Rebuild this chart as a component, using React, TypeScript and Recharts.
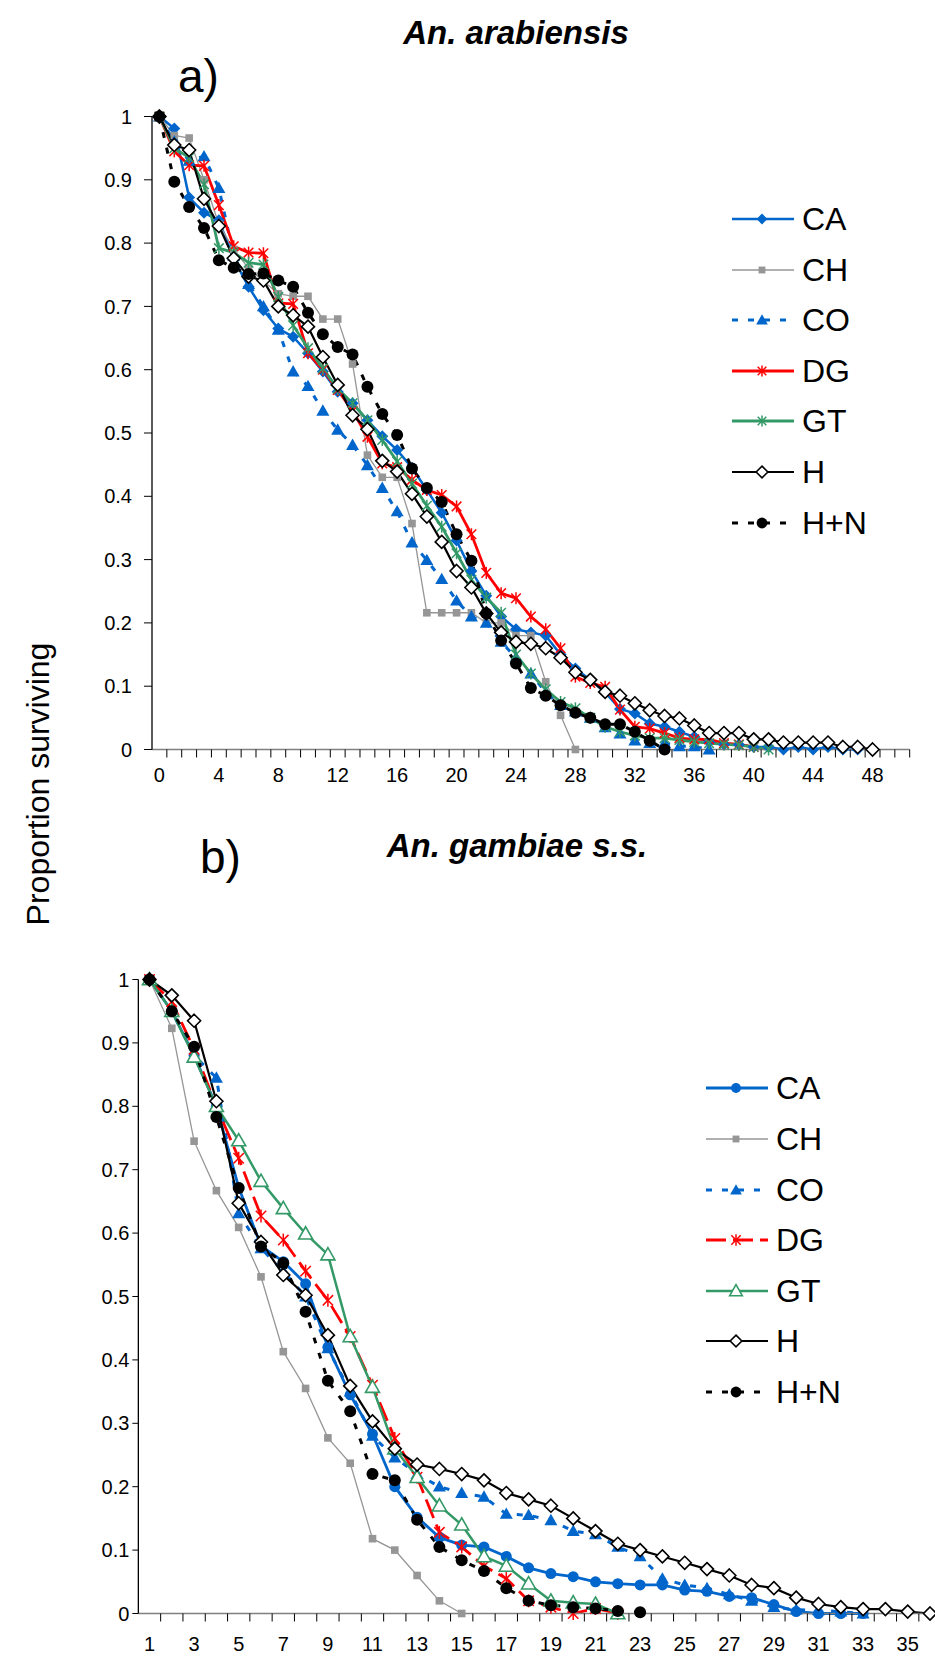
import React from 'react';
import { LineChart, Line, XAxis, YAxis } from 'recharts';

// ---------- a) An. arabiensis, days 0-48 ----------
const DAYS_A = [0, 1, 2, 3, 4, 5, 6, 7, 8, 9, 10, 11, 12, 13, 14, 15, 16, 17, 18, 19, 20, 21, 22, 23, 24,
  25, 26, 27, 28, 29, 30, 31, 32, 33, 34, 35, 36, 37, 38, 39, 40, 41, 42, 43, 44, 45, 46, 47, 48];
const CA_A = [1, 0.981, 0.872, 0.848, 0.836, 0.775, 0.731, 0.694, 0.665, 0.652, 0.626, 0.597, 0.565, 0.547,
  0.52, 0.495, 0.473, 0.445, 0.41, 0.374, 0.33, 0.282, 0.243, 0.21, 0.19, 0.185, 0.18, 0.15, 0.128, 0.11,
  0.09, 0.064, 0.057, 0.041, 0.036, 0.028, 0.02, 0.012, 0.008, 0.008, 0.004, 0.004, 0, 0.004, 0, 0.004, 0, 0];
const CH_A = [1, 0.97, 0.966, 0.9, 0.83, 0.79, 0.76, 0.74, 0.72, 0.716, 0.716, 0.68, 0.68, 0.609, 0.465,
  0.43, 0.43, 0.357, 0.216, 0.216, 0.216, 0.216, 0.2, 0.2, 0.18, 0.18, 0.107, 0.054, 0];
const CO_A = [1, 0.96, 0.93, 0.937, 0.887, 0.78, 0.735, 0.7, 0.663, 0.597, 0.574, 0.535, 0.505, 0.481,
  0.449, 0.413, 0.376, 0.327, 0.299, 0.269, 0.235, 0.21, 0.2, 0.17, 0.145, 0.12, 0.09, 0.07, 0.06, 0.05,
  0.035, 0.025, 0.014, 0.01, 0.01, 0.005, 0.005, 0];
const DG_A = [1, 0.945, 0.923, 0.922, 0.86, 0.795, 0.785, 0.784, 0.705, 0.704, 0.626, 0.6, 0.568, 0.535,
  0.494, 0.452, 0.446, 0.426, 0.41, 0.402, 0.384, 0.34, 0.279, 0.247, 0.239, 0.21, 0.19, 0.16, 0.115, 0.105,
  0.099, 0.063, 0.036, 0.033, 0.026, 0.018, 0.016, 0.016, 0.01, 0.008, 0.004];
const GT_A = [1, 0.95, 0.935, 0.893, 0.792, 0.785, 0.769, 0.766, 0.715, 0.67, 0.634, 0.602, 0.57, 0.547,
  0.52, 0.489, 0.455, 0.42, 0.385, 0.352, 0.31, 0.268, 0.24, 0.216, 0.15, 0.12, 0.095, 0.075, 0.065, 0.05,
  0.036, 0.028, 0.022, 0.018, 0.018, 0.015, 0.012, 0.01, 0.008, 0.007, 0.004, 0];
const H_A = [1, 0.955, 0.947, 0.87, 0.827, 0.776, 0.747, 0.741, 0.7, 0.686, 0.668, 0.62, 0.576, 0.528,
  0.506, 0.456, 0.439, 0.404, 0.368, 0.328, 0.282, 0.256, 0.215, 0.185, 0.17, 0.167, 0.16, 0.145, 0.122,
  0.11, 0.091, 0.085, 0.073, 0.062, 0.053, 0.049, 0.038, 0.026, 0.026, 0.026, 0.016, 0.016, 0.011, 0.011,
  0.011, 0.011, 0.004, 0.004, 0];
const HN_A = [1, 0.897, 0.857, 0.824, 0.773, 0.761, 0.751, 0.752, 0.741, 0.731, 0.69, 0.656, 0.636, 0.624,
  0.573, 0.53, 0.497, 0.444, 0.413, 0.391, 0.34, 0.298, 0.215, 0.172, 0.136, 0.097, 0.085, 0.07, 0.058,
  0.05, 0.04, 0.04, 0.028, 0.014, 0];

// ---------- b) An. gambiae s.s., days 1-36 ----------
const DAYS_B = [1, 2, 3, 4, 5, 6, 7, 8, 9, 10, 11, 12, 13, 14, 15, 16, 17, 18, 19, 20, 21, 22, 23, 24, 25,
  26, 27, 28, 29, 30, 31, 32, 33, 34, 35, 36];
const CA_B = [1, 0.95, 0.88, 0.8, 0.672, 0.58, 0.555, 0.52, 0.42, 0.345, 0.283, 0.2, 0.152, 0.12, 0.108,
  0.105, 0.09, 0.072, 0.063, 0.058, 0.05, 0.047, 0.045, 0.045, 0.037, 0.035, 0.027, 0.025, 0.014, 0.003,
  0, 0, 0];
const CH_B = [1, 0.923, 0.745, 0.667, 0.609, 0.531, 0.413, 0.355, 0.277, 0.237, 0.118, 0.1, 0.06, 0.02, 0];
const CO_B = [1, 0.95, 0.88, 0.845, 0.631, 0.576, 0.54, 0.5, 0.418, 0.35, 0.28, 0.246, 0.22, 0.2, 0.19,
  0.184, 0.157, 0.155, 0.147, 0.13, 0.125, 0.105, 0.09, 0.055, 0.045, 0.04, 0.03, 0.02, 0.01, 0.006, 0.005,
  0.003, 0];
const DG_B = [1, 0.965, 0.89, 0.8, 0.718, 0.627, 0.589, 0.54, 0.494, 0.437, 0.36, 0.276, 0.215, 0.128,
  0.105, 0.075, 0.055, 0.02, 0.01, 0, 0.008, 0];
const GT_B = [1, 0.95, 0.878, 0.8, 0.746, 0.682, 0.639, 0.599, 0.566, 0.437, 0.357, 0.26, 0.215, 0.17,
  0.14, 0.09, 0.075, 0.047, 0.02, 0.017, 0.015, 0];
const H_B = [1, 0.975, 0.935, 0.808, 0.647, 0.586, 0.534, 0.502, 0.439, 0.359, 0.303, 0.26, 0.235, 0.228,
  0.22, 0.21, 0.19, 0.18, 0.17, 0.15, 0.13, 0.11, 0.1, 0.09, 0.08, 0.07, 0.06, 0.045, 0.04, 0.025, 0.015,
  0.01, 0.007, 0.007, 0.003, 0];
const HN_B = [1, 0.95, 0.894, 0.783, 0.671, 0.579, 0.553, 0.476, 0.367, 0.319, 0.22, 0.21, 0.148, 0.105,
  0.084, 0.067, 0.04, 0.02, 0.013, 0.01, 0.008, 0.004, 0.002];

const X_LABELS_A = [0, 4, 8, 12, 16, 20, 24, 28, 32, 36, 40, 44, 48];
const X_LABELS_B = [1, 3, 5, 7, 9, 11, 13, 15, 17, 19, 21, 23, 25, 27, 29, 31, 33, 35];
const Y_TICKS = [0, 0.1, 0.2, 0.3, 0.4, 0.5, 0.6, 0.7, 0.8, 0.9, 1];

// tick marks sit between the day categories (one per day)
const TICKS_A = Array.from({ length: 51 }, (_, i) => i);
const TICKS_B = Array.from({ length: 36 }, (_, i) => i + 1);

const BLUE = '#0066CC';
const GRAY = '#969696';
const RED = '#FF0000';
const GREEN = '#339966';
const BLACK = '#000000';

type Kind = 'diamond' | 'openDiamond' | 'square' | 'triangle' | 'openTriangle' | 'circle' | 'star';

interface SeriesStyle {
  key: string;
  values: number[];
  color: string;
  width: number;
  dash?: string;
  marker: Kind;
  r: number;
}

const SERIES_A: SeriesStyle[] = [
  { key: 'CA', values: CA_A, color: BLUE, width: 2.5, marker: 'diamond', r: 6 },
  { key: 'CH', values: CH_A, color: GRAY, width: 1.3, marker: 'square', r: 3.8 },
  { key: 'CO', values: CO_A, color: BLUE, width: 3, dash: '6 10', marker: 'triangle', r: 6.5 },
  { key: 'DG', values: DG_A, color: RED, width: 2.8, marker: 'star', r: 6 },
  { key: 'GT', values: GT_A, color: GREEN, width: 2.8, marker: 'star', r: 6 },
  { key: 'H', values: H_A, color: BLACK, width: 2.2, marker: 'openDiamond', r: 6.5 },
  { key: 'H+N', values: HN_A, color: BLACK, width: 3, dash: '6 10', marker: 'circle', r: 6 },
];

const SERIES_B: SeriesStyle[] = [
  { key: 'CA', values: CA_B, color: BLUE, width: 2.8, marker: 'circle', r: 5.5 },
  { key: 'CH', values: CH_B, color: GRAY, width: 1.3, marker: 'square', r: 3.8 },
  { key: 'CO', values: CO_B, color: BLUE, width: 3, dash: '6 10', marker: 'triangle', r: 6.5 },
  { key: 'DG', values: DG_B, color: RED, width: 2.8, dash: '20 7', marker: 'star', r: 6.5 },
  { key: 'GT', values: GT_B, color: GREEN, width: 2.5, marker: 'openTriangle', r: 7 },
  { key: 'H', values: H_B, color: BLACK, width: 2.2, marker: 'openDiamond', r: 6.5 },
  { key: 'H+N', values: HN_B, color: BLACK, width: 3, dash: '6 10', marker: 'circle', r: 6 },
];

function buildRows(days: number[], series: SeriesStyle[]) {
  return days.map((day, i) => {
    const row: Record<string, number> = { day };
    series.forEach((s) => {
      if (i < s.values.length) row[s.key] = s.values[i];
    });
    return row;
  });
}

const ROWS_A = buildRows(DAYS_A, SERIES_A);
const ROWS_B = buildRows(DAYS_B, SERIES_B);

function Marker({ kind, x, y, color, r }: { kind: Kind; x: number; y: number; color: string; r: number }) {
  switch (kind) {
    case 'diamond':
      return <path d={`M${x},${y - r}L${x + r},${y}L${x},${y + r}L${x - r},${y}Z`} fill={color} />;
    case 'openDiamond':
      return (
        <path d={`M${x},${y - r}L${x + r},${y}L${x},${y + r}L${x - r},${y}Z`}
          fill="#fff" stroke={color} strokeWidth={1.6} />
      );
    case 'square':
      return <rect x={x - r} y={y - r} width={2 * r} height={2 * r} fill={color} />;
    case 'triangle':
      return <path d={`M${x},${y - r}L${x + r},${y + r * 0.75}L${x - r},${y + r * 0.75}Z`} fill={color} />;
    case 'openTriangle':
      return (
        <path d={`M${x},${y - r}L${x + r},${y + r * 0.75}L${x - r},${y + r * 0.75}Z`}
          fill="#fff" stroke={color} strokeWidth={1.6} />
      );
    case 'circle':
      return <circle cx={x} cy={y} r={r} fill={color} />;
    case 'star': {
      const d = r * 0.8;
      return (
        <g stroke={color} strokeWidth={1.5}>
          <line x1={x} y1={y - r} x2={x} y2={y + r} />
          <line x1={x - d} y1={y - d} x2={x + d} y2={y + d} />
          <line x1={x - d} y1={y + d} x2={x + d} y2={y - d} />
        </g>
      );
    }
    default:
      return null;
  }
}

const renderDot = (s: SeriesStyle) => (p: any) => {
  const key = `${s.key}-${p.index}`;
  if (p.cx == null || p.cy == null || p.value == null) return <g key={key} />;
  return (
    <g key={key}>
      <Marker kind={s.marker} x={p.cx} y={p.cy} color={s.color} r={s.r} />
    </g>
  );
};

// tick line drawn half a day to the right (between categories), label only for listed days
const makeXTick = (half: number, labels: number[], labelDy: number) => (p: any) => {
  const { x, y, payload } = p;
  const v = payload.value;
  return (
    <g>
      <line x1={x + half} x2={x + half} y1={y} y2={y + 8} stroke="#000" strokeWidth={1} />
      {labels.includes(v) && (
        <text x={x} y={y + labelDy} textAnchor="middle" fontSize={20} fill="#000">{v}</text>
      )}
    </g>
  );
};

const yFormat = (v: number) => (v === 0 ? '0' : v === 1 ? '1' : v.toFixed(1));

function Legend({ series, lineLeft, firstY, step, textLeft }: {
  series: SeriesStyle[]; lineLeft: number; firstY: number; step: number; textLeft: number;
}) {
  return (
    <>
      {series.map((s, i) => {
        const cy = firstY + i * step;
        return (
          <div key={s.key} style={{ position: 'absolute', left: lineLeft, top: cy - 20, height: 40, display: 'flex', alignItems: 'center' }}>
            <svg width={62} height={40} style={{ display: 'block' }}>
              <line x1={0} x2={62} y1={20} y2={20} stroke={s.color} strokeWidth={s.width} strokeDasharray={s.dash} />
              <Marker kind={s.marker} x={30} y={20} color={s.color} r={s.r * 0.9} />
            </svg>
            <span style={{ position: 'absolute', left: textLeft - lineLeft, top: 0, lineHeight: '40px', fontSize: 32, color: '#000', whiteSpace: 'nowrap' }}>
              {s.key}
            </span>
          </div>
        );
      })}
    </>
  );
}

function Panel({ rows, series, width, height, margin, yWidth, yTickSize, yTickMargin, domain, ticks, labels, half, labelDy }: any) {
  return (
    <LineChart width={width} height={height} data={rows} margin={margin}>
      <XAxis
        dataKey="day"
        type="number"
        domain={domain}
        ticks={ticks}
        interval={0}
        allowDataOverflow
        height={45}
        tickSize={0}
        tickMargin={0}
        tickLine={false}
        axisLine={{ stroke: '#808080', strokeWidth: 1.3 }}
        tick={makeXTick(half, labels, labelDy)}
      />
      <YAxis
        type="number"
        domain={[0, 1]}
        ticks={Y_TICKS}
        interval={0}
        width={yWidth}
        tickSize={yTickSize}
        tickMargin={yTickMargin}
        tickLine={{ stroke: '#000' }}
        axisLine={{ stroke: '#000', strokeWidth: 1.3 }}
        tick={{ fontSize: 20, fill: '#000' }}
        tickFormatter={yFormat}
      />
      {series.map((s: SeriesStyle) => (
        <Line
          key={s.key}
          dataKey={s.key}
          stroke={s.color}
          strokeWidth={s.width}
          strokeDasharray={s.dash}
          dot={renderDot(s)}
          activeDot={false}
          isAnimationActive={false}
          connectNulls={false}
        />
      ))}
    </LineChart>
  );
}

export default function App() {
  const font = '"Liberation Sans", Arial, sans-serif';
  // panel a: plot x 152 -> 909.7 over [-0.5, 50.5]
  const halfA = (909.7 - 152) / 51 / 2;
  // panel b: plot x 138.35 -> 941.15 over [0.5, 36.5]
  const halfB = (941.15 - 138.35) / 36 / 2;

  return (
    <div style={{ position: 'absolute', left: 0, top: 0, width: 935, height: 1663, overflow: 'hidden', background: '#fff', fontFamily: font }}>
      <div style={{ position: 'absolute', left: 0, top: 0 }}>
        <Panel
          rows={ROWS_A} series={SERIES_A} width={935} height={800}
          margin={{ top: 116.5, right: 25.3, bottom: 5.5, left: 0 }}
          yWidth={152} yTickSize={8} yTickMargin={12}
          domain={[-0.5, 50.5]} ticks={TICKS_A} labels={X_LABELS_A} half={halfA} labelDy={32}
        />
      </div>
      <div style={{ position: 'absolute', left: 0, top: 880 }}>
        <Panel
          rows={ROWS_B} series={SERIES_B} width={950} height={783}
          margin={{ top: 99.5, right: 8.85, bottom: 4.5, left: 0 }}
          yWidth={138.35} yTickSize={6} yTickMargin={3}
          domain={[0.5, 36.5]} ticks={TICKS_B} labels={X_LABELS_B} half={halfB} labelDy={37}
        />
      </div>

      <Legend series={SERIES_A} lineLeft={732} firstY={219} step={50.6} textLeft={802} />
      <Legend series={SERIES_B} lineLeft={706} firstY={1088.3} step={50.6} textLeft={776} />

      <svg width={935} height={1663} style={{ position: 'absolute', left: 0, top: 0, pointerEvents: 'none' }}>
        <text x={516} y={44} textAnchor="middle" fontSize={33} fontWeight="bold" fontStyle="italic" fill="#000">
          An. arabiensis
        </text>
        <text x={178} y={92} fontSize={46} fill="#000">a)</text>
        <text x={517} y={857} textAnchor="middle" fontSize={33} fontWeight="bold" fontStyle="italic" fill="#000">
          An. gambiae s.s.
        </text>
        <text x={200} y={873} fontSize={46} fill="#000">b)</text>
        <text transform="translate(49,784) rotate(-90)" textAnchor="middle" fontSize={32} fill="#000">
          Proportion surviving
        </text>
      </svg>
    </div>
  );
}
